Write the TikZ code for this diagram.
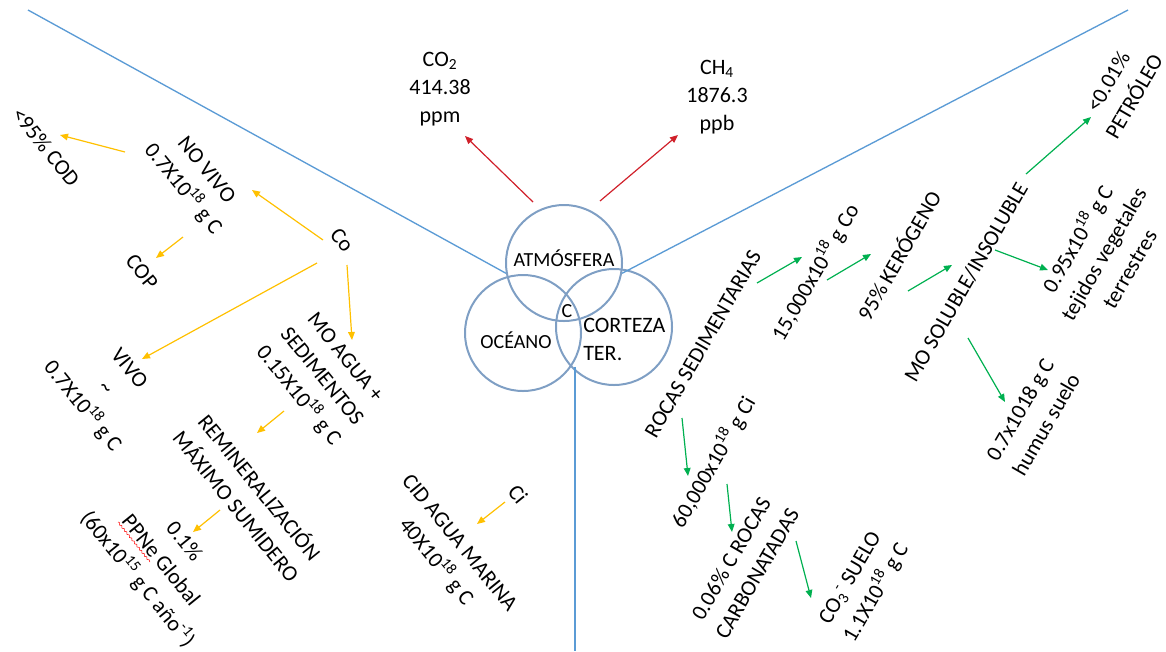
\documentclass[tikz,border=0pt]{standalone}
\usepackage{fontspec}
\setmainfont{Carlito}
\usetikzlibrary{arrows.meta, decorations.pathmorphing}

\definecolor{axisblue}{HTML}{5B9BD5}
\definecolor{ringblue}{HTML}{7F9FC4}
\definecolor{flowyellow}{HTML}{FFC000}
\definecolor{flowgreen}{HTML}{00B050}
\definecolor{flowred}{HTML}{D0202A}

\begin{document}
\begin{tikzpicture}[x=0.75pt,y=-0.75pt,
  txt/.style={inner sep=0pt,align=center,font=\fontsize{16.5}{22.5}\selectfont},
  gas/.style={inner sep=0pt,align=center,font=\fontsize{16.5}{21}\selectfont},
  lft/.style={txt,rotate=-51},
  rgt/.style={txt,rotate=60},
  ringlbl/.style={inner sep=0pt,font=\fontsize{15}{18}\selectfont},
  ring/.style={circle,draw=ringblue,line width=1.5pt,minimum size=87pt,inner sep=0pt},
  axis/.style={axisblue,line width=1pt},
  ya/.style={flowyellow,line width=0.9pt,-{Triangle[length=6pt,width=5pt]}},
  ga/.style={flowgreen,line width=0.9pt,-{Triangle[length=6pt,width=5pt]}},
  ra/.style={flowred,line width=0.9pt,-{Triangle[length=6pt,width=5pt]}},
  spellmark/.style={red,line width=0.4pt,decorate,decoration={snake,amplitude=0.6pt,segment length=3pt}}]
\useasboundingbox (0,0) rectangle (1166,651);

% three reservoirs
\node[ring] (atm) at (564,263) {};
\node[ring] (oce) at (523,333) {};
\node[ring] (cor) at (614,327) {};
\node[ringlbl] (atmlbl) at (564,258) {ATMÓSFERA};
\node[ringlbl] (ocelbl) at (516,340) {OCÉANO};
\node[ringlbl] (clbl) at (567,311) {C};
\node[gas,align=left,anchor=west] (corlbl) at (583,339) {CORTEZA\\TER.};

% dividing lines
\coordinate (topleft) at (28,10);
\coordinate (topright) at (1128,10);
\coordinate (bottom) at (575,651);
\draw[axis] (topleft) -- (atm.190);
\draw[axis] (topright) -- (atm.-10);
\draw[axis] (bottom |- oce.-35) -- (bottom);

% atmosphere
\node[gas] (co2) at (440,89) {CO\textsubscript{2}\\414.38\\ppm};
\node[gas] (ch4) at (717,97) {CH\textsubscript{4}\\1876.3\\ppb};
\draw[ra] ([shift={(-31,-61)}]atm.center) -- ([shift={(25,47)}]co2.center);
\draw[ra] ([shift={(36,-62)}]atm.center) -- ([shift={(-39,38)}]ch4.center);

% ocean
\node[lft] (cod) at (46,147) {<95\% COD};
\node[lft] (novivo) at (194,180) {NO VIVO\\0.7X10\textsuperscript{18} g C};
\node[lft] (co) at (342,240) {Co};
\node[lft] (cop) at (142,272) {COP};
\node[lft] (vivo) at (105,388) {VIVO\\\textasciitilde\\0.7X10\textsuperscript{18} g C};
\node[lft] (moagua) at (321,377) {MO AGUA +\\SEDIMENTOS\\0.15X10\textsuperscript{18} g C};
\node[lft] (remin) at (249,496) {REMINERALIZACIÓN\\MÁXIMO SUMIDERO};
\node[lft] (ppne) at (160,561) {0.1\%\\PPNe Global\\(60x10\textsuperscript{15} g C año\textsuperscript{-1})};
\node[lft] (ci) at (518,494) {Ci};
\node[lft] (cid) at (447,553) {CID AGUA MARINA\\40X10\textsuperscript{18} g C};
\draw[spellmark] ([shift={(-42,-39)}]ppne.center) -- ([shift={(-10,1)}]ppne.center);

\draw[ya] ([shift={(-69,-28)}]novivo.center) -- ([shift={(14,-12)}]cod.center);
\draw[ya] ([shift={(-19,0)}]co.center) -- ([shift={(58,10)}]novivo.center);
\draw[ya] ([shift={(-11,57)}]novivo.center) -- ([shift={(14,-14)}]cop.center);
\draw[ya] ([shift={(-25,23)}]co.center) -- ([shift={(37,-29)}]vivo.center);
\draw[ya] ([shift={(5,25)}]co.center) -- ([shift={(31,-37)}]moagua.center);
\draw[ya] ([shift={(-37,34)}]moagua.center) -- ([shift={(8,-63)}]remin.center);
\draw[ya] ([shift={(-29,14)}]remin.center) -- ([shift={(33,-29)}]ppne.center);
\draw[ya] ([shift={(-13,8)}]ci.center) -- ([shift={(30,-29)}]cid.center);

% crust
\node[rgt] (rocas) at (703,344) {ROCAS SEDIMENTARIAS};
\node[rgt] (co15) at (815,272) {15,000x10\textsuperscript{18} g Co};
\node[rgt] (kero) at (898,255) {95\% KERÓGENO};
\node[rgt] (mosol) at (966,282) {MO SOLUBLE/INSOLUBLE};
\node[rgt] (petro) at (1121,89) {<0.01\%\\PETRÓLEO};
\node[rgt] (tejidos) at (1102,253) {0.95x10\textsuperscript{18} g C\\tejidos vegetales\\terrestres};
\node[rgt] (humus) at (1033,417) {0.7x1018 g C\\humus suelo};
\node[rgt] (ci60) at (713,462) {60,000x10\textsuperscript{18} g Ci};
\node[rgt] (carbo) at (744,566) {0.06\% C ROCAS\\CARBONATADAS};
\node[rgt] (co3) at (864,586) {CO\textsubscript{3}\textsuperscript{-} SUELO\\1.1X10\textsuperscript{18} g C};

\draw[ga] ([shift={(54,-61)}]rocas.center) -- ([shift={(-13,-15)}]co15.center);
\draw[ga] ([shift={(12,8)}]co15.center) -- ([shift={(-27,-1)}]kero.center);
\draw[ga] ([shift={(10,36)}]kero.center) -- ([shift={(-14,-17)}]mosol.center);
\draw[ga] ([shift={(60,-108)}]mosol.center) -- ([shift={(-30,28)}]petro.center);
\draw[ga] ([shift={(29,-32)}]mosol.center) -- ([shift={(-54,17)}]tejidos.center);
\draw[ga] ([shift={(2,56)}]mosol.center) -- ([shift={(-28,-15)}]humus.center);
\draw[ga] ([shift={(-21,74)}]rocas.center) -- ([shift={(-25,14)}]ci60.center);
\draw[ga] ([shift={(14,22)}]ci60.center) -- ([shift={(-12,-34)}]carbo.center);
\draw[ga] ([shift={(52,-25)}]carbo.center) -- ([shift={(-53,12)}]co3.center);
\end{tikzpicture}
\end{document}
